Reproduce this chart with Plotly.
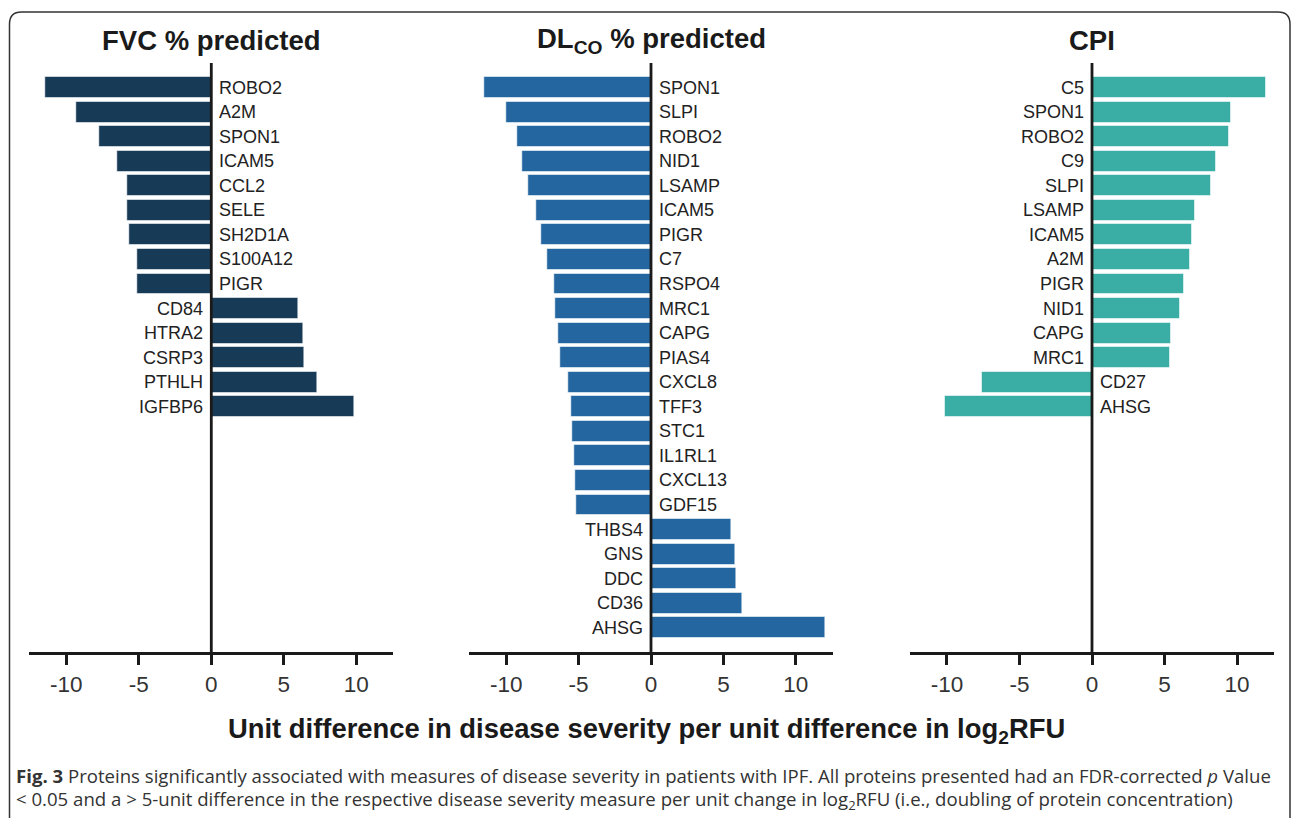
import plotly.graph_objects as go

W, H = 1292, 818

# ---------------- data ----------------
fvc_proteins = ["ROBO2", "A2M", "SPON1", "ICAM5", "CCL2", "SELE", "SH2D1A", "S100A12", "PIGR",
                "CD84", "HTRA2", "CSRP3", "PTHLH", "IGFBP6"]
fvc_values = [-11.47, -9.31, -7.70, -6.46, -5.81, -5.77, -5.63, -5.12, -5.10,
              6.00, 6.37, 6.41, 7.29, 9.88]

dlco_proteins = ["SPON1", "SLPI", "ROBO2", "NID1", "LSAMP", "ICAM5", "PIGR", "C7", "RSPO4", "MRC1",
                 "CAPG", "PIAS4", "CXCL8", "TFF3", "STC1", "IL1RL1", "CXCL13", "GDF15",
                 "THBS4", "GNS", "DDC", "CD36", "AHSG"]
dlco_values = [-11.50, -10.00, -9.22, -8.88, -8.46, -7.95, -7.59, -7.19, -6.71, -6.60,
               -6.37, -6.26, -5.68, -5.50, -5.47, -5.29, -5.24, -5.19,
               5.52, 5.84, 5.86, 6.28, 12.07]

cpi_proteins = ["C5", "SPON1", "ROBO2", "C9", "SLPI", "LSAMP", "ICAM5", "A2M", "PIGR", "NID1",
                "CAPG", "MRC1", "CD27", "AHSG"]
cpi_values = [12.02, 9.61, 9.47, 8.55, 8.18, 7.12, 6.90, 6.73, 6.32, 6.08,
              5.42, 5.38, -7.57, -10.12]

panel_titles = ["FVC % predicted", "DL<sub>CO</sub> % predicted", "CPI"]
panel_colors = ["#173a57", "#2466a0", "#3aaea5"]
tick_vals = [-10, -5, 0, 5, 10]
tick_text = ["-10", "-5", "0", "5", "10"]
x_title = "Unit difference in disease severity per unit difference in log<sub>2</sub>RFU"
caption_1 = ("<b>Fig. 3</b> Proteins significantly associated with measures of disease severity in "
             "patients with IPF. All proteins presented had an FDR-corrected <i>p</i> Value")
caption_2 = ("&lt; 0.05 and a &gt; 5-unit difference in the respective disease severity measure per "
             "unit change in log<sub>2</sub>RFU (i.e., doubling of protein concentration)")

# ---------------- layout geometry (pixels) ----------------
x_domains_px = [(29.3, 393.3), (469.3, 832.7), (910.0, 1274.0)]
y_top_px, y_bot_px = 63.0, 652.3
x_range = [-12.55, 12.55]
n_rows = 23

def px_x(p):
    return p / W

def px_y(p):
    return 1 - p / H

panels = [(fvc_proteins, fvc_values), (dlco_proteins, dlco_values), (cpi_proteins, cpi_values)]
axis_ids = ["x", "x2", "x3"]

fig = go.Figure()
annotations = []
shapes = []

for k, ((names, vals), ax) in enumerate(zip(panels, axis_ids)):
    rows = list(range(len(names)))
    fig.add_trace(go.Bar(
        x=vals, y=rows, orientation="h", width=0.85,
        marker=dict(color=panel_colors[k], line=dict(color="rgba(255,255,255,0.55)", width=1)),
        xaxis=ax, yaxis="y", showlegend=False, hoverinfo="skip",
    ))
    for r, (name, v) in enumerate(zip(names, vals)):
        annotations.append(dict(
            x=0, y=r, xref=ax, yref="y", text=name, showarrow=False,
            xanchor="left" if v < 0 else "right", yanchor="middle",
            xshift=6 if v < 0 else -6,
            font=dict(family="Arial, Liberation Sans", size=18, color="#222222"),
        ))
    # panel title
    annotations.append(dict(
        x=0, y=px_y(40), xref=ax, yref="paper", text=panel_titles[k], showarrow=False,
        xanchor="center", yanchor="middle",
        font=dict(family="Arial, Liberation Sans", size=27.5, color="#1a1a1a", weight="bold"),
    ))
    # zero line
    shapes.append(dict(type="line", xref=ax, yref="paper", x0=0, x1=0,
                       y0=px_y(y_bot_px), y1=px_y(y_top_px),
                       line=dict(color="#1a1a1a", width=2.8), layer="above"))

# axis title
annotations.append(dict(
    x=px_x(646), y=px_y(730), xref="paper", yref="paper", text=x_title, showarrow=False,
    xanchor="center", yanchor="middle",
    font=dict(family="Arial, Liberation Sans", size=27.4, color="#1a1a1a", weight="bold"),
))
# caption
for text, yy in [(caption_1, 775), (caption_2, 800)]:
    annotations.append(dict(
        x=px_x(14), y=px_y(yy), xref="paper", yref="paper", text=text, showarrow=False,
        xanchor="left", yanchor="middle",
        font=dict(family="Open Sans", size=18.6, color="#333333"),
    ))

# rounded border
xl, xr, yt, yb, r = 9.5, 1290.0, 12.0, 840.0, 12.0
path = (f"M {px_x(xl)},{px_y(yb)} L {px_x(xl)},{px_y(yt + r)} "
        f"Q {px_x(xl)},{px_y(yt)} {px_x(xl + r)},{px_y(yt)} "
        f"L {px_x(xr - r)},{px_y(yt)} "
        f"Q {px_x(xr)},{px_y(yt)} {px_x(xr)},{px_y(yt + r)} "
        f"L {px_x(xr)},{px_y(yb)}")
shapes.append(dict(type="path", xref="paper", yref="paper", path=path,
                   line=dict(color="#333333", width=1.5)))

axis_common = dict(
    range=x_range, showgrid=False, zeroline=False,
    showline=True, linewidth=3, linecolor="#1a1a1a",
    ticks="outside", ticklen=10, tickwidth=3, tickcolor="#1a1a1a",
    tickvals=tick_vals, ticktext=tick_text,
    tickfont=dict(family="Arial, Liberation Sans", size=22.5, color="#333333"),
    anchor="y", fixedrange=True,
)

layout = dict(
    width=W, height=H,
    margin=dict(l=0, r=0, t=0, b=0),
    paper_bgcolor="white", plot_bgcolor="white",
    bargap=0,
    yaxis=dict(domain=[px_y(y_bot_px), px_y(y_top_px)], range=[n_rows, -1],
               visible=False, fixedrange=True),
    annotations=annotations, shapes=shapes,
)
for k, ax in enumerate(axis_ids):
    key = "xaxis" if k == 0 else f"xaxis{k + 1}"
    layout[key] = dict(domain=[px_x(x_domains_px[k][0]), px_x(x_domains_px[k][1])], **axis_common)

fig.update_layout(**layout)

fig.write_html("out.html", config={"displayModeBar": False},
               post_script="document.body.style.margin='0';")
